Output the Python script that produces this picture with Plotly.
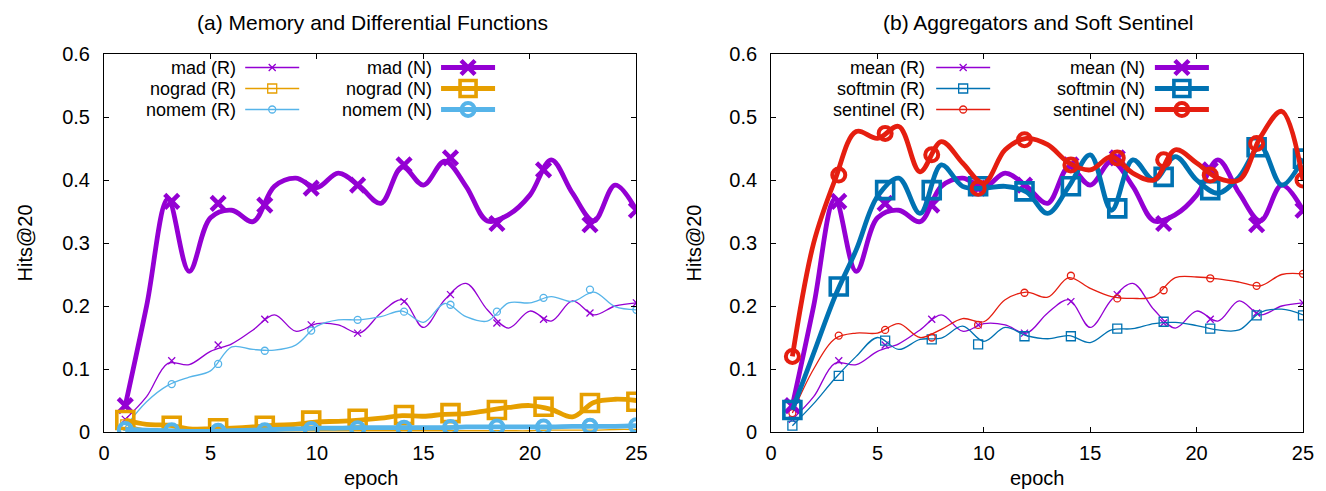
import plotly.graph_objects as go

# ---------------- data ----------------
epochs = list(range(1, 26))
marker_epochs = [1.0, 3.18, 5.36, 7.55, 9.73, 11.91, 14.09, 16.27, 18.45, 20.64, 22.82, 25.0]

# (a) Memory and Differential Functions
mad_R = [0.020, 0.056, 0.109, 0.107, 0.128, 0.140, 0.162, 0.186, 0.160, 0.172, 0.170, 0.157, 0.189,
         0.210, 0.166, 0.210, 0.236, 0.194, 0.165, 0.192, 0.176, 0.208, 0.186, 0.200, 0.205]
mad_R_pts = [0.020, 0.113, 0.138, 0.179, 0.170, 0.157, 0.207, 0.218, 0.173, 0.179, 0.189, 0.205]
nograd_R = [0.012, 0.004, 0.002, 0.002, 0.002, 0.002, 0.002, 0.002, 0.002, 0.002, 0.002, 0.002, 0.002,
            0.002, 0.002, 0.002, 0.002, 0.002, 0.002, 0.002, 0.003, 0.003, 0.003, 0.004, 0.004]
nograd_R_pts = [0.012, 0.004, 0.002, 0.002, 0.002, 0.002, 0.002, 0.002, 0.002, 0.002, 0.003, 0.004]
nomem_R = [0.008, 0.048, 0.074, 0.087, 0.097, 0.135, 0.131, 0.130, 0.138, 0.168, 0.178, 0.178, 0.183,
           0.192, 0.174, 0.204, 0.183, 0.176, 0.205, 0.205, 0.215, 0.207, 0.222, 0.199, 0.194]
nomem_R_pts = [0.008, 0.076, 0.108, 0.129, 0.161, 0.178, 0.191, 0.202, 0.191, 0.213, 0.226, 0.194]
mad_N = [0.042, 0.200, 0.370, 0.255, 0.340, 0.352, 0.334, 0.390, 0.403, 0.388, 0.411, 0.390, 0.363,
         0.421, 0.392, 0.430, 0.390, 0.335, 0.345, 0.376, 0.432, 0.379, 0.335, 0.392, 0.352]
mad_N_pts = [0.042, 0.366, 0.363, 0.360, 0.387, 0.392, 0.424, 0.435, 0.331, 0.416, 0.329, 0.352]
nograd_N = [0.019, 0.012, 0.011, 0.005, 0.005, 0.006, 0.008, 0.011, 0.012, 0.016, 0.017, 0.019, 0.022,
            0.026, 0.025, 0.028, 0.029, 0.034, 0.039, 0.042, 0.036, 0.024, 0.047, 0.052, 0.050]
nograd_N_pts = [0.019, 0.010, 0.006, 0.010, 0.018, 0.021, 0.027, 0.030, 0.035, 0.040, 0.046, 0.048]
nomem_N = [0.004, 0.003, 0.002, 0.001, 0.001, 0.002, 0.003, 0.004, 0.005, 0.006, 0.006, 0.007, 0.007,
           0.007, 0.007, 0.007, 0.008, 0.008, 0.008, 0.008, 0.008, 0.009, 0.009, 0.009, 0.010]
nomem_N_pts = [0.004, 0.002, 0.001, 0.002, 0.004, 0.005, 0.006, 0.007, 0.008, 0.008, 0.009, 0.010]

# (b) Aggregators and Soft Sentinel
mean_R = [0.020, 0.056, 0.109, 0.107, 0.128, 0.140, 0.162, 0.186, 0.160, 0.172, 0.170, 0.157, 0.189,
          0.210, 0.166, 0.210, 0.236, 0.194, 0.165, 0.192, 0.176, 0.208, 0.186, 0.200, 0.205]
mean_R_pts = [0.020, 0.113, 0.138, 0.179, 0.170, 0.157, 0.207, 0.218, 0.173, 0.179, 0.189, 0.205]
softmin_R = [0.010, 0.045, 0.085, 0.120, 0.150, 0.131, 0.147, 0.149, 0.168, 0.144, 0.166, 0.153, 0.148,
             0.153, 0.142, 0.162, 0.164, 0.172, 0.174, 0.169, 0.162, 0.162, 0.190, 0.195, 0.186]
softmin_R_pts = [0.010, 0.089, 0.145, 0.147, 0.139, 0.152, 0.152, 0.164, 0.175, 0.164, 0.185, 0.185]
sentinel_R = [0.030, 0.100, 0.148, 0.157, 0.157, 0.172, 0.150, 0.163, 0.180, 0.175, 0.210, 0.222, 0.214,
              0.245, 0.228, 0.215, 0.212, 0.215, 0.245, 0.246, 0.243, 0.238, 0.232, 0.250, 0.251]
sentinel_R_pts = [0.030, 0.153, 0.162, 0.150, 0.170, 0.221, 0.248, 0.212, 0.225, 0.244, 0.232, 0.251]
mean_N = [0.042, 0.200, 0.370, 0.255, 0.340, 0.352, 0.334, 0.390, 0.403, 0.388, 0.411, 0.390, 0.363,
          0.421, 0.392, 0.430, 0.390, 0.335, 0.345, 0.376, 0.432, 0.379, 0.335, 0.392, 0.352]
mean_N_pts = [0.042, 0.366, 0.363, 0.360, 0.387, 0.392, 0.424, 0.435, 0.331, 0.416, 0.329, 0.352]
softmin_N = [0.035, 0.125, 0.215, 0.289, 0.374, 0.403, 0.347, 0.424, 0.390, 0.387, 0.390, 0.381, 0.347,
             0.390, 0.440, 0.352, 0.432, 0.400, 0.437, 0.400, 0.379, 0.405, 0.453, 0.392, 0.434]
softmin_N_pts = [0.035, 0.231, 0.384, 0.384, 0.390, 0.382, 0.390, 0.355, 0.405, 0.384, 0.452, 0.434]
sentinel_N = [0.120, 0.300, 0.400, 0.477, 0.466, 0.485, 0.413, 0.461, 0.427, 0.395, 0.448, 0.466, 0.456,
              0.427, 0.416, 0.437, 0.411, 0.400, 0.448, 0.427, 0.403, 0.400, 0.468, 0.509, 0.400]
sentinel_N_pts = [0.120, 0.408, 0.474, 0.440, 0.387, 0.464, 0.424, 0.435, 0.432, 0.408, 0.458, 0.400]

titles = ["(a) Memory and Differential Functions", "(b) Aggregators and Soft Sentinel"]
x_ticks = [0, 5, 10, 15, 20, 25]
y_ticks = [0, 0.1, 0.2, 0.3, 0.4, 0.5, 0.6]

PURPLE, ORANGE, LBLUE, BLUE, RED = "#9400D3", "#E69F00", "#56B4E9", "#0072B2", "#E51E10"
FONT = "Liberation Sans"
FS = 20
KEY_FS = 18

THIN = dict(lw=1.3, sym={"x": ("x-thin-open", 7, 1.3), "sq": ("square-open", 9, 1.3), "ci": ("circle-open", 7, 1.3)})
THICK = dict(lw=4.8, sym={"x": ("x-thin-open", 14, 4.5), "sq": ("square-open", 17, 3.6), "ci": ("circle-open", 13, 4.0)})

# (label, line values, marker values, color, weight, symbol, subplot, legend id)
series = [
    ("mad (R)", mad_R, mad_R_pts, PURPLE, THIN, "x", 1, "legend"),
    ("nograd (R)", nograd_R, nograd_R_pts, ORANGE, THIN, "sq", 1, "legend"),
    ("nomem (R)", nomem_R, nomem_R_pts, LBLUE, THIN, "ci", 1, "legend"),
    ("mad (N)", mad_N, mad_N_pts, PURPLE, THICK, "x", 1, "legend2"),
    ("nograd (N)", nograd_N, nograd_N_pts, ORANGE, THICK, "sq", 1, "legend2"),
    ("nomem (N)", nomem_N, nomem_N_pts, LBLUE, THICK, "ci", 1, "legend2"),
    ("mean (R)", mean_R, mean_R_pts, PURPLE, THIN, "x", 2, "legend3"),
    ("softmin (R)", softmin_R, softmin_R_pts, BLUE, THIN, "sq", 2, "legend3"),
    ("sentinel (R)", sentinel_R, sentinel_R_pts, RED, THIN, "ci", 2, "legend3"),
    ("mean (N)", mean_N, mean_N_pts, PURPLE, THICK, "x", 2, "legend4"),
    ("softmin (N)", softmin_N, softmin_N_pts, BLUE, THICK, "sq", 2, "legend4"),
    ("sentinel (N)", sentinel_N, sentinel_N_pts, RED, THICK, "ci", 2, "legend4"),
]

# ---------------- layout geometry (pixels) ----------------
W, H = 1326, 491
ML, MR, MT, MB = 104, 16, 54, 59
PW = W - ML - MR
PH = H - MT - MB


def px(x):
    return (x - ML) / PW


def py(y):
    return (H - MB - y) / PH


fig = go.Figure()
for label, vals, pts, color, wt, sym, sp, leg in series:
    xa = "x" if sp == 1 else "x2"
    ya = "y" if sp == 1 else "y2"
    symbol, msize, mlw = wt["sym"][sym]
    fig.add_trace(go.Scatter(x=epochs, y=vals, mode="lines", xaxis=xa, yaxis=ya,
                             line=dict(color=color, width=wt["lw"], shape="spline", smoothing=1.0),
                             showlegend=False, hoverinfo="skip"))
    fig.add_trace(go.Scatter(x=marker_epochs, y=pts, mode="markers", xaxis=xa, yaxis=ya,
                             marker=dict(symbol=symbol, size=msize, color=color,
                                         line=dict(color=color, width=mlw)),
                             showlegend=False, name=label))
    fig.add_trace(go.Scatter(x=[None], y=[None], mode="lines+markers", xaxis=xa, yaxis=ya,
                             line=dict(color=color, width=wt["lw"]),
                             marker=dict(symbol=symbol, size=msize, color=color,
                                         line=dict(color=color, width=mlw)),
                             name=" ", legend=leg, showlegend=True))

axis_common = dict(range=[0, 25], tickvals=x_ticks, ticks="inside", ticklen=5, tickcolor="black",
                   showline=True, linecolor="black", linewidth=1, mirror="ticks", showgrid=False,
                   zeroline=False, tickfont=dict(family=FONT, size=FS, color="black"),
                   ticklabelstandoff=3)
yaxis_common = dict(range=[0, 0.6], tickvals=y_ticks, ticks="inside", ticklen=5, tickcolor="black",
                    showline=True, linecolor="black", linewidth=1, mirror="ticks", showgrid=False,
                    zeroline=False, tickfont=dict(family=FONT, size=FS, color="black"),
                    ticklabelstandoff=9)

left_dom = [0, px(639.5)]
right_dom = [px(775), 1]

fig.update_layout(
    width=W, height=H,
    margin=dict(l=ML, r=MR, t=MT, b=MB),
    paper_bgcolor="white", plot_bgcolor="white",
    font=dict(family=FONT, size=FS, color="black"),
    xaxis=dict(domain=left_dom, anchor="y", **axis_common),
    yaxis=dict(domain=[0, 1], anchor="x", **yaxis_common),
    xaxis2=dict(domain=right_dom, anchor="y2", **axis_common),
    yaxis2=dict(domain=[0, 1], anchor="x2", **yaxis_common),
)

# key rows: 21 px apart (legend item height = 1.3*font + 3)
ROW = 21
row_y = [67.5, 67.5 + ROW, 67.5 + 2 * ROW]
leg_common = dict(bgcolor="rgba(0,0,0,0)", borderwidth=0, itemwidth=54, tracegroupgap=0,
                  font=dict(family=FONT, size=(ROW - 3) / 1.3), xanchor="left", yanchor="top",
                  y=py(row_y[0] - 5 - ROW / 2), itemclick=False, itemdoubleclick=False)
fig.update_layout(
    legend=dict(x=px(241), **leg_common),
    legend2=dict(x=px(438), **leg_common),
    legend3=dict(x=px(936), **leg_common),
    legend4=dict(x=px(1156), **leg_common),
)

annotations = []
# legend labels (right-justified, left of the samples, gnuplot style)
text_right = {"legend": 238, "legend2": 435, "legend3": 931, "legend4": 1152}
rows = {}
for label, vals, pts, color, wt, sym, sp, leg in series:
    i = rows.get(leg, 0)
    rows[leg] = i + 1
    annotations.append(dict(text=label, xref="paper", yref="paper", x=px(text_right[leg]), y=py(row_y[i]),
                            xanchor="right", yanchor="middle", showarrow=False, borderpad=0,
                            font=dict(family=FONT, size=KEY_FS, color="black")))
# titles
for t, cx in zip(titles, [374, 1044]):
    annotations.append(dict(text=t, xref="paper", yref="paper", x=px(cx), y=py(22),
                            xanchor="center", yanchor="middle", showarrow=False,
                            font=dict(family=FONT, size=FS + 1, color="black")))
# axis titles
for cx in [373, 1043]:
    annotations.append(dict(text="epoch", xref="paper", yref="paper", x=px(cx), y=py(478),
                            xanchor="center", yanchor="middle", showarrow=False,
                            font=dict(family=FONT, size=FS, color="black")))
for cx in [25, 697]:
    annotations.append(dict(text="Hits@20", xref="paper", yref="paper", x=px(cx), y=py(243),
                            xanchor="center", yanchor="middle", showarrow=False, textangle=-90,
                            font=dict(family=FONT, size=FS, color="black")))
fig.update_layout(annotations=annotations)

fig.write_html("out.html", config={"displayModeBar": False},
               post_script="document.body.style.margin='0';document.body.style.overflow='hidden';")
